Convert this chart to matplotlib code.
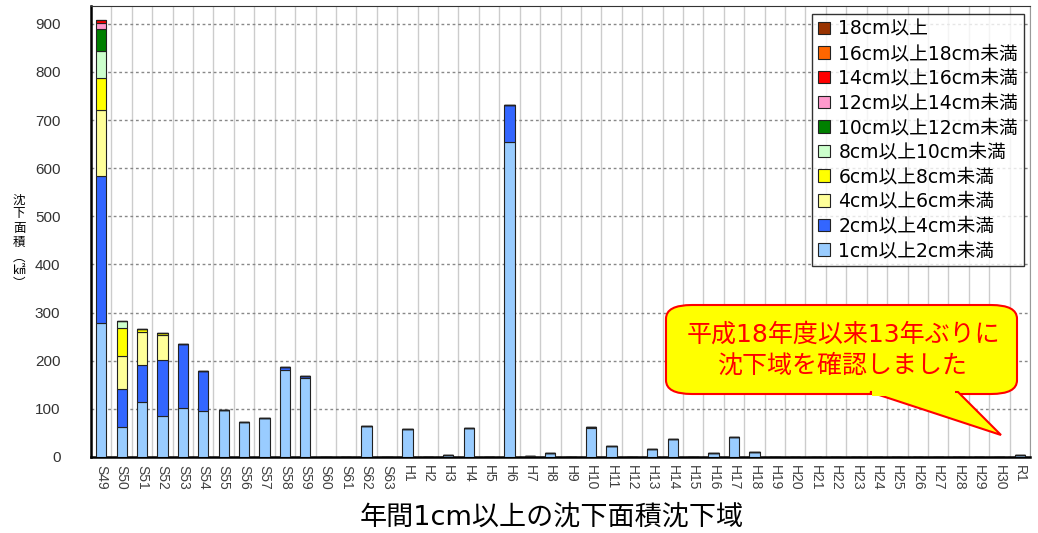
import matplotlib
matplotlib.use("Agg")
import matplotlib.pyplot as plt
import numpy as np
from matplotlib.patches import FancyBboxPatch, Polygon

plt.rcParams['font.family'] = ['Noto Sans CJK JP', 'DejaVu Sans']
MIXED = ['DejaVu Sans', 'Noto Sans CJK JP']

# years: S49-S63, H1-H30, R1
years = ["S%d" % y for y in range(49, 64)] + ["H%d" % y for y in range(1, 31)] + ["R1"]

# area (km2) by yearly subsidence class, one value per year
c1_2 = [278, 63, 114, 85, 102, 96, 97, 73, 82, 181, 165, 0, 0, 64, 0,
        59, 0, 5, 60, 0, 655, 2, 8, 0, 60, 22, 0, 16, 38, 0, 9, 42, 11,
        0, 0, 0, 0, 0, 0, 0, 0, 0, 0, 0, 0, 4]
c2_4 = [305, 78, 77, 116, 132, 83, 0, 0, 0, 7, 4, 0, 0, 0, 0,
        0, 0, 0, 0, 0, 77, 0, 0, 0, 3, 0, 0, 0, 0, 0, 0, 0, 0,
        0, 0, 0, 0, 0, 0, 0, 0, 0, 0, 0, 0, 0]
c4_6 = [138, 69, 69, 52] + [0] * 42
c6_8 = [67, 57, 5, 5] + [0] * 42
c8_10 = [56, 16] + [0] * 44
c10_12 = [45] + [0] * 45
c12_14 = [13] + [0] * 45
c14_16 = [6] + [0] * 45
c16_18 = [0] * 46
c18 = [0] * 46

series = [c1_2, c2_4, c4_6, c6_8, c8_10, c10_12, c12_14, c14_16, c16_18, c18]
labels = ["1cm以上2cm未満", "2cm以上4cm未満", "4cm以上6cm未満", "6cm以上8cm未満",
          "8cm以上10cm未満", "10cm以上12cm未満", "12cm以上14cm未満",
          "14cm以上16cm未満", "16cm以上18cm未満", "18cm以上"]
colors = ["#99ccff", "#3366ff", "#ffff99", "#ffff00", "#ccffcc", "#008000",
          "#ff99cc", "#ff0000", "#ff6600", "#993300"]

W, H = 1038.0, 533.0
def fc(px, py):
    return (px / W, 1 - py / H)

fig = plt.figure(figsize=(10.38, 5.33), dpi=100)
ax = fig.add_axes([91 / W, 1 - 457 / H, (1030 - 91) / W, (457 - 6) / H])

x = np.arange(len(years))
bottom = np.zeros(len(years))
handles = []
for vals, lab, col in zip(series, labels, colors):
    vals = np.array(vals, dtype=float)
    b = ax.bar(x, vals, 0.5, bottom=bottom, color=col, edgecolor="#222222",
               linewidth=0.8, label=lab, zorder=3)
    handles.append(b)
    bottom += vals

ax.set_xlim(-0.35, 45.45)
ax.set_ylim(0, 937)
ax.set_yticks(range(0, 1000, 100))
ax.set_xticks(x)
ax.set_xticklabels(years, rotation=-90, fontsize=10, color="#404040",
                   family="Liberation Sans")
for t in ax.get_yticklabels():
    t.set_family("Liberation Sans")
    t.set_color("#333333")
ax.tick_params(axis="y", length=0, pad=22, labelsize=11)
ax.tick_params(axis="x", length=0, pad=6)

# grid
ax.set_xticks(np.arange(-0.5, 46, 0.5), minor=True)
ax.grid(axis="x", which="minor", color="#cccccc", linewidth=1, zorder=0)
ax.grid(axis="y", which="major", color="#888888", linestyle=(0, (2, 2)),
        linewidth=1, zorder=1)
ax.tick_params(axis="x", which="minor", length=0)

ax.spines["left"].set_linewidth(1.8)
ax.spines["bottom"].set_linewidth(1.8)
ax.spines["top"].set_color("#333333")
ax.spines["right"].set_color("#999999")

leg = ax.legend(handles[::-1], labels[::-1], loc="upper right",
                bbox_to_anchor=(0.9995, 0.995), frameon=True,
                prop={"family": MIXED, "size": 13.5},
                fancybox=False, edgecolor="black", handlelength=0.65,
                handleheight=0.65, handletextpad=0.45, labelspacing=0.3,
                borderpad=0.3, borderaxespad=0.3)
leg.get_frame().set_linewidth(1.0)
leg.set_zorder(5)

# axis titles
fig.text(552 / W, 1 - 518 / H, "年間1cm以上の沈下面積沈下域",
         ha="center", va="center", fontsize=19.5, family=MIXED)
for ch, py in zip(["沈", "下", "面", "積", "︵", "㎢", "︶"],
                  [200, 214, 228, 242, 257, 271, 284]):
    fig.text(19 / W, 1 - py / H, ch, ha="center", va="center", fontsize=9)

# callout
x0, y0 = fc(666, 394)
x1, y1 = fc(1017, 305)
box = FancyBboxPatch((x0, y0), x1 - x0, y1 - y0, transform=fig.transFigure,
                     boxstyle="round,pad=0,rounding_size=0.025",
                     facecolor="#ffff00", edgecolor="#ff0000", linewidth=1.5,
                     zorder=6, mutation_aspect=H / W * 2)
fig.patches.append(box)
tail = Polygon([fc(870, 392), fc(1001, 435), fc(958, 392)], closed=True,
               transform=fig.transFigure, facecolor="#ffff00",
               edgecolor="#ff0000", linewidth=1.5, zorder=7)
fig.patches.append(tail)
cover = Polygon([fc(872, 389), fc(955, 389), fc(955, 396), fc(872, 396)],
                closed=True, transform=fig.transFigure, facecolor="#ffff00",
                edgecolor="none", zorder=8)
fig.patches.append(cover)
fig.text(843 / W, 1 - 335 / H, "平成18年度以来13年ぶりに", color="#ff0000",
         ha="center", va="center", fontsize=18, family=MIXED, zorder=9)
fig.text(843 / W, 1 - 366 / H, "沈下域を確認しました", color="#ff0000",
         ha="center", va="center", fontsize=18, family=MIXED, zorder=9)

fig.savefig("out.png", dpi=100)
